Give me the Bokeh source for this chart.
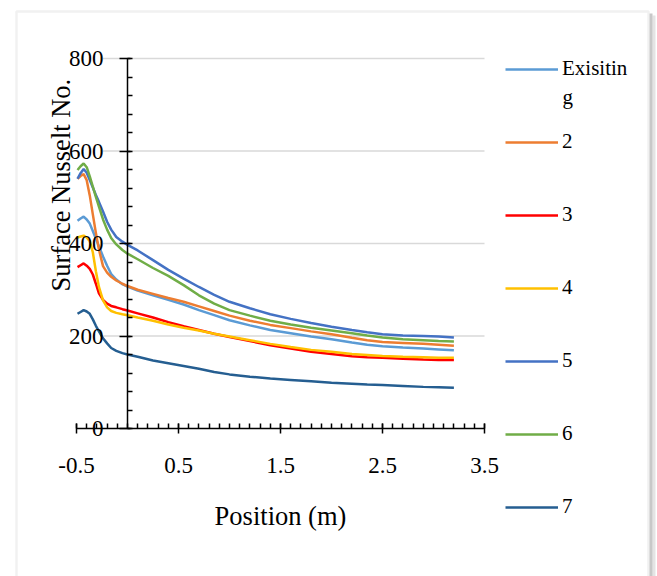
from math import pi

import numpy as np
from bokeh.embed import file_html
from bokeh.models import BoxAnnotation, FixedTicker, Label, Legend, LegendItem, Range1d
from bokeh.plotting import figure
from bokeh.resources import INLINE

# Position along the surface (m)
position = [-0.49, -0.46, -0.43, -0.40, -0.37, -0.34, -0.31, -0.28, -0.24, -0.20,
            -0.16, -0.11, -0.05, 0.0, 0.1, 0.25, 0.4, 0.55, 0.7, 0.85,
            1.0, 1.2, 1.4, 1.6, 1.8, 2.0, 2.2, 2.35, 2.5, 2.7,
            2.9, 3.05, 3.2]

# Surface Nusselt number for each configuration
nu_existing = [449, 454, 458, 452, 443, 427, 410, 394, 372, 352,
               334, 322, 312, 307, 298, 288, 278, 268, 256, 245,
               234, 223, 213, 206, 199, 193, 186, 181, 178, 175,
               173, 171, 169]
nu_2 = [540, 546, 550, 537, 504, 463, 423, 387, 351, 337,
        328, 320, 313, 308, 300, 291, 282, 274, 264, 254,
        244, 233, 224, 217, 210, 204, 196, 191, 187, 185,
        183, 181, 179]
nu_3 = [349, 353, 357, 352, 345, 333, 313, 292, 278, 270,
        265, 262, 258, 255, 249, 240, 230, 221, 213, 205,
        198, 189, 180, 173, 166, 161, 156, 154, 153, 151,
        149, 148, 148]
nu_4 = [413, 415, 417, 413, 405, 381, 340, 306, 277, 262,
        254, 250, 247, 245, 240, 233, 225, 218, 212, 205,
        199, 191, 183, 176, 170, 166, 161, 159, 157, 155,
        154, 153, 153]
nu_5 = [540, 552, 561, 553, 537, 521, 505, 490, 469, 447,
        430, 414, 404, 397, 385, 364, 343, 324, 306, 289,
        274, 260, 247, 237, 228, 220, 213, 208, 204, 201,
        200, 199, 197]
nu_6 = [559, 567, 573, 565, 545, 523, 501, 480, 452, 430,
        412, 398, 386, 378, 366, 347, 330, 310, 288, 270,
        256, 244, 233, 225, 218, 212, 206, 201, 197, 193,
        191, 189, 188]
nu_7 = [248, 252, 256, 253, 248, 236, 222, 210, 195, 184,
        174, 168, 163, 160, 155, 147, 141, 135, 129, 122,
        117, 112, 108, 105, 102, 99, 97, 95, 94, 92,
        90, 89, 88]

series_names = ["Exisiting", "2", "3", "4", "5", "6", "7"]
series_values = [nu_existing, nu_2, nu_3, nu_4, nu_5, nu_6, nu_7]
series_colors = ["#5B9BD5", "#ED7D31", "#FF0000", "#FFC000", "#4472C4", "#70AD47", "#255E91"]

x_major = [-0.5, 0.5, 1.5, 2.5, 3.5]
x_minor = [round(v, 1) for v in np.arange(-0.5, 3.51, 0.1)]
y_major = [0, 200, 400, 600, 800]
y_minor = list(range(0, 801, 40))

SERIF = "Liberation Serif"
LEGEND_WRAP = 8          # legend text wraps after this many characters
GRID_X_START = -0.24     # gridlines begin just right of the value labels

# Canvas geometry: the plotting frame fills the whole canvas and both axes
# sit at fixed data positions inside it, so labels and legend are never clipped.
W, H = 657, 576
AXIS_LEFT_PX, AXIS_RIGHT_PX = 76, 484     # x = -0.5 .. 3.5 (from canvas left)
AXIS_TOP_PX, AXIS_BOTTOM_PX = 58, 428     # y = 800 .. 0 (from canvas top)
px_per_x = (AXIS_RIGHT_PX - AXIS_LEFT_PX) / (x_major[-1] - x_major[0])
px_per_y = (AXIS_BOTTOM_PX - AXIS_TOP_PX) / (y_major[-1] - y_major[0])
x_lo = x_major[0] - AXIS_LEFT_PX / px_per_x
x_hi = x_major[-1] + (W - AXIS_RIGHT_PX) / px_per_x
y_hi = y_major[-1] + AXIS_TOP_PX / px_per_y
y_lo = y_major[0] - (H - AXIS_BOTTOM_PX) / px_per_y


def data_x(px):
    return x_lo + px / px_per_x


def data_y(py):
    return y_hi - py / px_per_y


p = figure(width=W, height=H,
           x_range=Range1d(x_lo, x_hi), y_range=Range1d(y_lo, y_hi),
           output_backend="svg", toolbar_location=None,
           min_border=0,
           background_fill_color="white", border_fill_color="white")
p.outline_line_color = None
p.grid.visible = False

# chart frame with a soft shadow on its right edge
p.add_layout(BoxAnnotation(left=data_x(649), right=data_x(652), top=data_y(13), bottom=data_y(620),
                           fill_color="#9a9a9a", fill_alpha=0.55, line_color=None))
p.add_layout(BoxAnnotation(left=data_x(652), right=data_x(655), top=data_y(15), bottom=data_y(620),
                           fill_color="#bcbcbc", fill_alpha=0.4, line_color=None))
p.add_layout(BoxAnnotation(left=data_x(16), right=data_x(648), top=data_y(11), bottom=data_y(620),
                           fill_alpha=0, line_color="#cfcfcf", line_width=2.5))

# horizontal gridlines
grid_levels = [v for v in y_major if v > 0]
p.segment(x0=GRID_X_START, x1=x_major[-1], y0=grid_levels, y1=grid_levels,
          line_color="#d9d9d9", line_width=1.5)

renderers = []
for name, vals, col in zip(series_names, series_values, series_colors):
    r = p.line(position, vals, line_color=col, line_width=2.5)
    renderers.append(r)

# x axis along y = 0
xa = p.xaxis[0]
xa.fixed_location = 0
xa.bounds = (x_major[0], x_major[-1])
xa.ticker = FixedTicker(ticks=x_major, minor_ticks=x_minor)
xa.major_label_overrides = {v: f"{v:g}" for v in x_major}
xa.axis_line_color = "black"
xa.axis_line_width = 1.5
xa.major_tick_line_color = "black"
xa.major_tick_line_width = 1.5
xa.minor_tick_line_color = "black"
xa.minor_tick_line_width = 1.5
xa.major_tick_in = 5
xa.major_tick_out = 5
xa.minor_tick_in = 5
xa.minor_tick_out = 0
xa.major_label_text_font = SERIF
xa.major_label_text_font_size = "23px"
xa.major_label_text_color = "black"
xa.major_label_standoff = 24
xa.axis_label = "Position (m)"
xa.axis_label_text_font = SERIF
xa.axis_label_text_font_size = "26.5px"
xa.axis_label_text_font_style = "normal"
xa.axis_label_text_color = "black"
xa.axis_label_standoff = 25

# y axis crossing at x = 0
ya = p.yaxis[0]
ya.fixed_location = 0
ya.bounds = (y_major[0], y_major[-1])
ya.ticker = FixedTicker(ticks=y_major, minor_ticks=y_minor)
ya.axis_line_color = "black"
ya.axis_line_width = 1.5
ya.major_tick_line_color = "black"
ya.major_tick_line_width = 1.5
ya.minor_tick_line_color = "black"
ya.minor_tick_line_width = 1.5
ya.major_tick_in = 3
ya.major_tick_out = 8
ya.minor_tick_in = 5
ya.minor_tick_out = 0
ya.major_label_text_font = SERIF
ya.major_label_text_font_size = "23px"
ya.major_label_text_color = "black"
ya.major_label_standoff = 16

p.add_layout(Label(x=60, y=H - 184.6, x_units="screen", y_units="screen",
                   text="Surface Nusselt No.", angle=pi / 2,
                   text_align="center", text_baseline="middle",
                   text_font=SERIF, text_font_size="26.5px", text_color="black"))

# legend to the right of the plot area
items = [LegendItem(label=name[:LEGEND_WRAP], renderers=[r])
         for name, r in zip(series_names, renderers)]
legend = Legend(items=items, location=(505, H - 519), orientation="vertical",
                glyph_width=53, glyph_height=24, label_height=24,
                label_standoff=4, spacing=48, padding=0, margin=0,
                border_line_color=None, background_fill_alpha=0,
                label_text_font=SERIF, label_text_font_size="21px",
                label_text_color="black")
p.add_layout(legend)
p.add_layout(Label(x=562, y=H - 96, x_units="screen", y_units="screen",
                   text=series_names[0][LEGEND_WRAP:], text_baseline="middle",
                   text_font=SERIF, text_font_size="21px", text_color="black"))

open("out.html", "w").write(file_html(p, INLINE))
